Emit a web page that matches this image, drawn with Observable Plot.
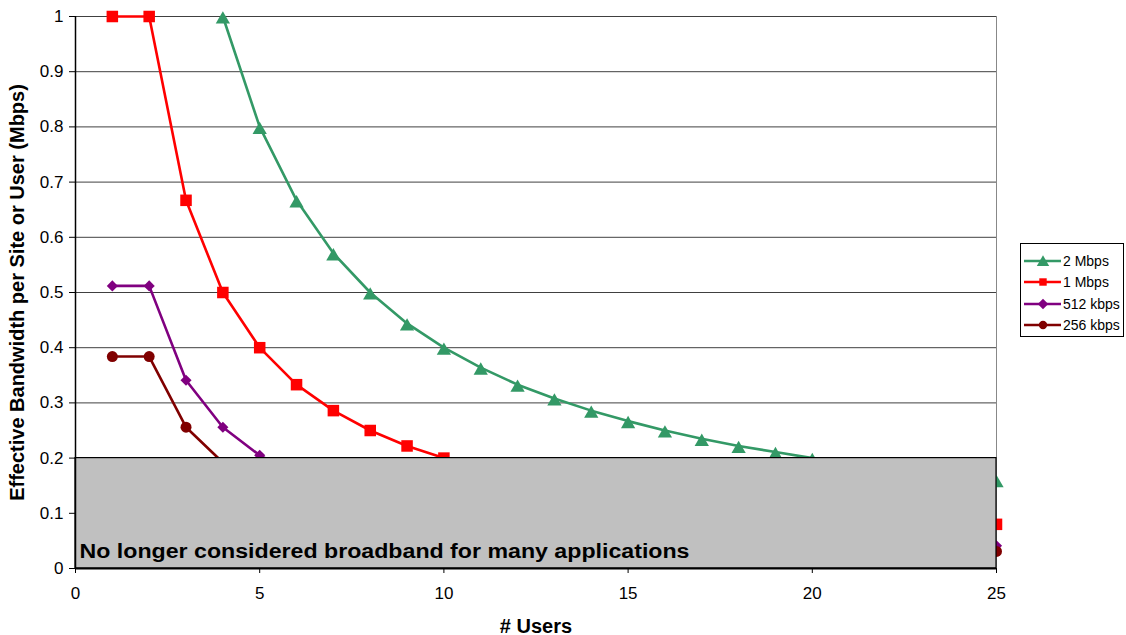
<!DOCTYPE html>
<html>
<head>
<meta charset="utf-8">
<script src="https://cdn.jsdelivr.net/npm/d3@7"></script>
<script src="https://cdn.jsdelivr.net/npm/@observablehq/plot@0.6"></script>
<style>
  html, body { margin: 0; padding: 0; background: #fff; }
  #wrap { position: relative; width: 1126px; height: 635px; font-family: "Liberation Sans", Arial, sans-serif; }
  #wrap svg [aria-label="y-axis label"] text, #wrap svg [aria-label="x-axis label"] text { font-weight: bold; font-size: 20px; }
  #legend { position: absolute; left: 1020px; top: 243px; width: 104px; height: 94px; border: 1px solid #000; background: #fff; box-sizing: border-box; padding-top: 6px; }
  .li { display: flex; align-items: center; height: 21.5px; font-size: 14px; color: #000; white-space: nowrap; }
  .li svg { margin-left: 2px; margin-right: 1px; flex: none; }
</style>
</head>
<body>
<div id="wrap"></div>
<script>
const users = [1,2,3,4,5,6,7,8,9,10,11,12,13,14,15,16,17,18,19,20,21,22,23,24,25];
const seriesNames = ["2 Mbps", "1 Mbps", "512 kbps", "256 kbps"];
const seriesColors = ["#339966", "#FF0000", "#800080", "#800000"];
const seriesSymbols = ["triangle", "square", "diamond2", "circle"];
const bw2M   = [null,null,null,1,0.8,0.667,0.571,0.5,0.444,0.4,0.364,0.333,0.308,0.286,0.267,0.25,0.235,0.222,0.211,0.2,0.19,0.182,0.174,0.167,0.16];
const bw1M   = [1,1,0.667,0.5,0.4,0.333,0.286,0.25,0.222,0.2,0.182,0.167,0.154,0.143,0.133,0.125,0.118,0.111,0.105,0.1,0.095,0.091,0.087,0.083,0.08];
const bw512k = [0.512,0.512,0.341,0.256,0.205,0.171,0.146,0.128,0.114,0.102,0.093,0.085,0.079,0.073,0.068,0.064,0.06,0.057,0.054,0.051,0.049,0.047,0.045,0.043,0.041];
const bw256k = [0.384,0.384,0.256,0.192,0.154,0.128,0.11,0.096,0.085,0.077,0.07,0.064,0.059,0.055,0.051,0.048,0.045,0.043,0.04,0.038,0.037,0.035,0.033,0.032,0.031];
const xTicks = [0,5,10,15,20,25];
const yTicks = [0,0.1,0.2,0.3,0.4,0.5,0.6,0.7,0.8,0.9,1];
const broadbandThreshold = 0.2;
const bandText = "No longer considered broadband for many applications";

const allSeries = [bw2M, bw1M, bw512k, bw256k];
const data = [];
allSeries.forEach((vals, i) => {
  vals.forEach((v, j) => { if (v != null) data.push({series: seriesNames[i], users: users[j], bw: v}); });
});

// marker sizing per symbol (style only)
const markerR = {triangle: 5.3, square: 6.5, diamond2: 5.0, circle: 5.5};
const markerDy = {triangle: 3, square: 0, diamond2: 0, circle: 0};

const dotMarks = seriesNames.map((name, i) =>
  Plot.dot(data.filter(d => d.series === name), {
    x: "users", y: "bw", symbol: "series", fill: "series", stroke: null,
    r: markerR[seriesSymbols[i]], dy: markerDy[seriesSymbols[i]]
  })
);

const plot = Plot.plot({
  width: 1126,
  height: 635,
  marginLeft: 75,
  marginRight: 130,
  marginTop: 16,
  marginBottom: 67,
  style: {fontFamily: "'Liberation Sans', Arial, sans-serif", fontSize: "17px", color: "#000", background: "#fff"},
  x: {domain: [0, 25]},
  y: {domain: [0, 1]},
  color: {domain: seriesNames, range: seriesColors},
  symbol: {domain: seriesNames, range: seriesSymbols},
  marks: [
    Plot.ruleY(yTicks.filter(d => d > 0), {stroke: "#000", strokeWidth: 1, strokeOpacity: 0.75}),
    Plot.ruleX([25], {stroke: "#888", strokeWidth: 1}),
    Plot.line(data, {x: "users", y: "bw", z: "series", stroke: "series", strokeWidth: 2.6}),
    ...dotMarks,
    Plot.rect([{x1: 0, x2: 25, y1: 0, y2: broadbandThreshold}], {x1: "x1", x2: "x2", y1: "y1", y2: "y2", fill: "#C0C0C0", stroke: "#000", strokeWidth: 1.2}),
    Plot.text([bandText], {x: 0, y: 0, text: d => d, textAnchor: "start", dx: 4, dy: -17, fontWeight: "bold", fontSize: 20, fill: "#000", className: "bandtext"}),
    Plot.ruleX([0], {stroke: "#000", strokeWidth: 1.5}),
    Plot.ruleY([0], {stroke: "#000", strokeWidth: 2}),
    Plot.axisY({ticks: yTicks, tickFormat: d => String(+d.toFixed(1)), tickSize: 6, tickPadding: 6, label: "Effective Bandwidth per Site or User (Mbps)", labelAnchor: "center", labelArrow: "none", labelOffset: 66}),
    Plot.axisX({ticks: xTicks, tickFormat: d => String(d), tickSize: 5, tickPadding: 13, label: "# Users", labelAnchor: "center", labelArrow: "none", labelOffset: 64})
  ]
});

const wrap = document.getElementById("wrap");
wrap.appendChild(plot);
// stretch the band label to match the reference's wide rendering
plot.querySelectorAll(".bandtext text").forEach(t => {
  t.setAttribute("textLength", 610);
  t.setAttribute("lengthAdjust", "spacingAndGlyphs");
});

const legend = document.createElement("div");
legend.id = "legend";
const symMap = {triangle: d3.symbolTriangle, square: d3.symbolSquare, diamond2: d3.symbolSquare, circle: d3.symbolCircle};
seriesNames.forEach((name, i) => {
  const row = document.createElement("div");
  row.className = "li";
  const sym = d3.symbol(symMap[seriesSymbols[i]], seriesSymbols[i] === "triangle" ? 66 : 55)();
  const rot = seriesSymbols[i] === "diamond2" ? "rotate(45)" : "";
  const ty = seriesSymbols[i] === "triangle" ? 8.5 : 7;
  row.innerHTML = `<svg width="39" height="14"><line x1="1" x2="38" y1="7" y2="7" stroke="${seriesColors[i]}" stroke-width="2.6"/><path d="${sym}" transform="translate(20,${ty}) ${rot}" fill="${seriesColors[i]}"/></svg><span>${name}</span>`;
  legend.appendChild(row);
});
wrap.appendChild(legend);
</script>
</body>
</html>
